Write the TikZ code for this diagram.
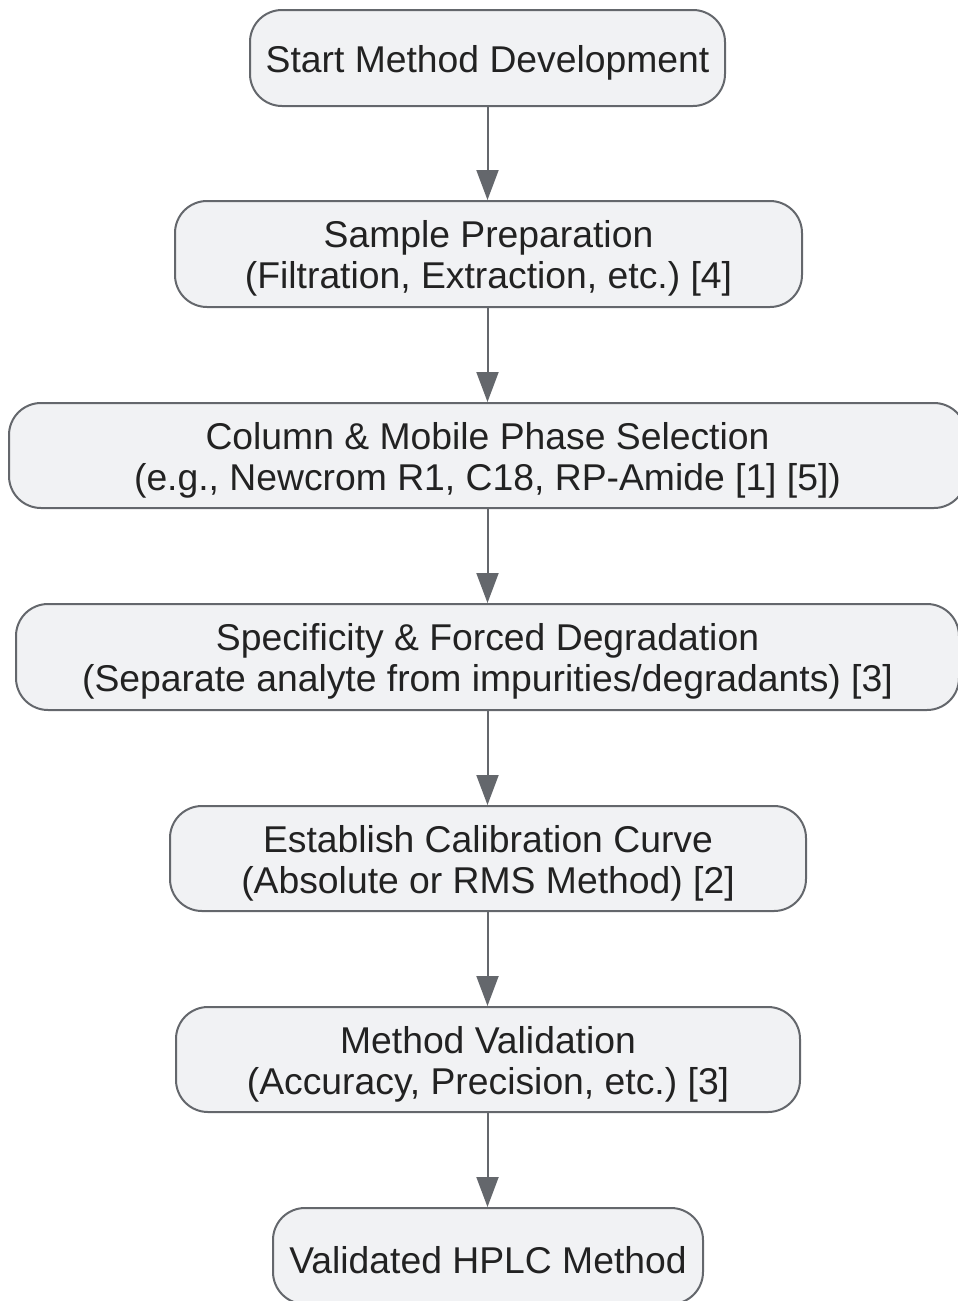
\documentclass[tikz,border=0pt]{standalone}
\usepackage{fontspec}
\setmainfont{Liberation Sans}
\usetikzlibrary{arrows.meta}
\definecolor{boxfill}{HTML}{F1F2F4}
\definecolor{boxline}{HTML}{64676C}
\definecolor{txt}{HTML}{222222}
\newcommand{\toplift}{\rule{0pt}{36pt}}
\frenchspacing
\begin{document}
\begin{tikzpicture}[x=1pt,y=-1pt,
  stepbox/.style={draw=boxline, fill=boxfill, line width=2pt, rounded corners=32pt,
    align=center, inner sep=0pt, text=txt, font=\fontsize{37.3}{41}\selectfont\frenchspacing},
  flow/.style={draw=boxline, line width=2pt, -{Triangle[length=30pt,width=22pt]}}]
\clip (0,0) rectangle (958,1301);
\node[stepbox, minimum width=475pt, minimum height=96pt] (b1) at (487.5,58) {\toplift Start Method Development};
\node[stepbox, minimum width=627pt, minimum height=106pt] (b2) at (488.5,254) {\toplift Sample Preparation\\(Filtration, Extraction, etc.) [4]};
\node[stepbox, minimum width=957pt, minimum height=105pt] (b3) at (487.5,455.5) {\toplift Column \& Mobile Phase Selection\\(e.g., Newcrom R1, C18, RP-Amide [1] [5])};
\node[stepbox, minimum width=943pt, minimum height=106pt] (b4) at (487.5,657) {\toplift Specificity \& Forced Degradation\\(Separate analyte from impurities/degradants) [3]};
\node[stepbox, minimum width=636pt, minimum height=105pt] (b5) at (488,858.5) {\toplift Establish Calibration Curve\\(Absolute or RMS Method) [2]};
\node[stepbox, minimum width=624pt, minimum height=105pt] (b6) at (488,1059.5) {\toplift Method Validation\\(Accuracy, Precision, etc.) [3]};
\node[stepbox, minimum width=430pt, minimum height=96pt] (b7) at (488,1256) {\toplift Validated HPLC Method};
\draw[flow] (b1.south) -- (b1.south |- b2.north);
\draw[flow] (b1.south |- b2.south) -- (b1.south |- b3.north);
\draw[flow] (b1.south |- b3.south) -- (b1.south |- b4.north);
\draw[flow] (b1.south |- b4.south) -- (b1.south |- b5.north);
\draw[flow] (b1.south |- b5.south) -- (b1.south |- b6.north);
\draw[flow] (b1.south |- b6.south) -- (b1.south |- b7.north);
\end{tikzpicture}
\end{document}
